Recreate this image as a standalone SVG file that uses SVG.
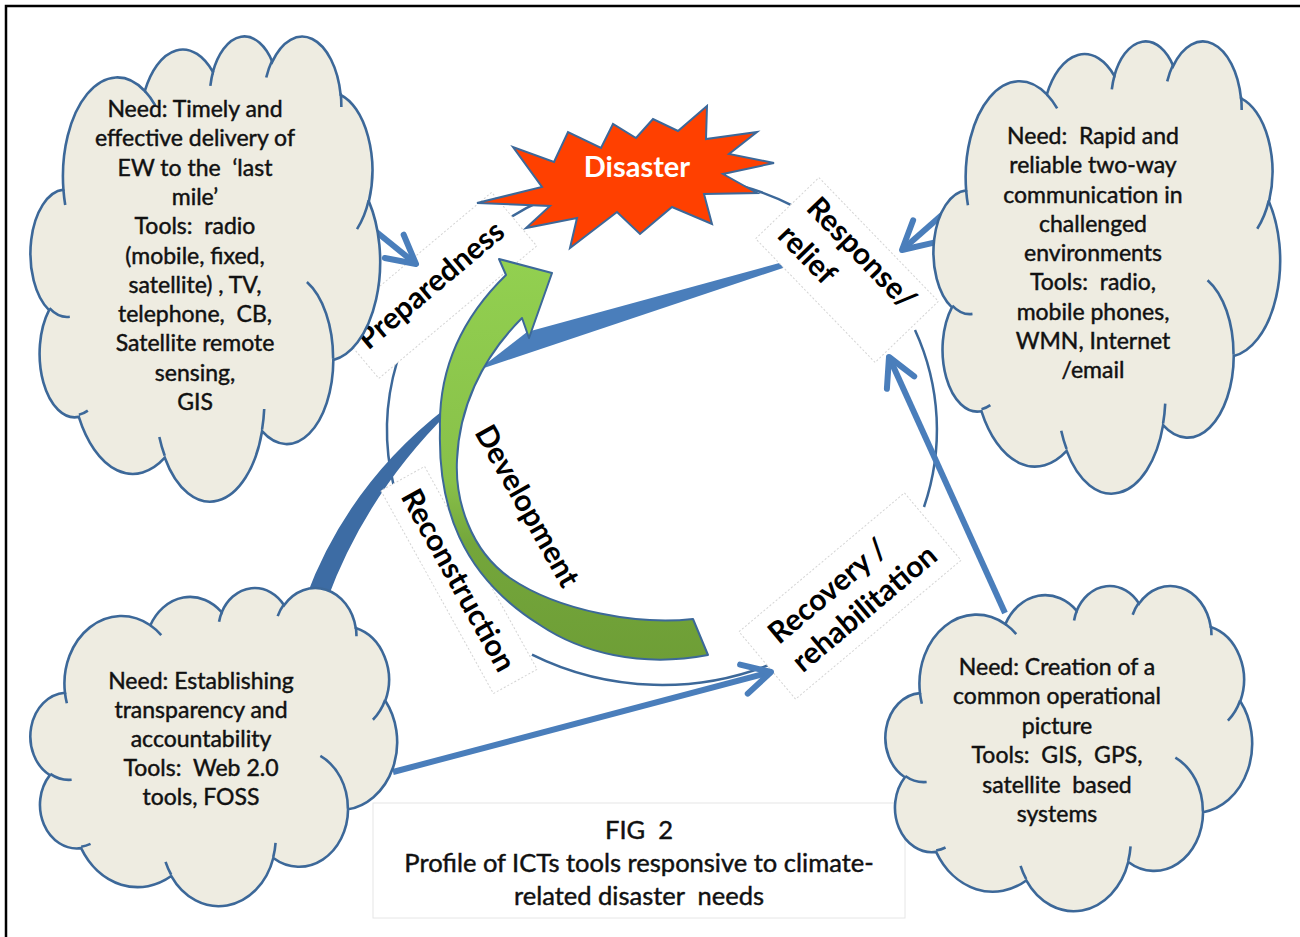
<svg xmlns="http://www.w3.org/2000/svg" width="1300" height="937" viewBox="0 0 1300 937">
<defs>
<style>
.cloud-body{fill:#EEECE1;stroke:#3C6899;stroke-width:2.6}
.cloud-inner{fill:none;stroke:#3C6899;stroke-width:2.6}
.ct{font-family:Lato,'Liberation Sans',sans-serif;font-size:23px;fill:#111;stroke:#111;stroke-width:0.45;text-anchor:middle;white-space:pre}
.cap{font-family:Lato,'Liberation Sans',sans-serif;font-size:25.5px;fill:#111;stroke:#111;stroke-width:0.45;text-anchor:middle;white-space:pre}
.lbl{font-family:Lato,'Liberation Sans',sans-serif;font-size:30px;font-weight:bold;fill:#000;white-space:pre}
.lblbox{fill:#fff;stroke:#d4d4d4;stroke-width:1;stroke-dasharray:2 2}
.cyc{fill:none;stroke:#3C6899;stroke-width:2.5}
.arr{fill:none;stroke:#4A7EBB;stroke-width:6;marker-end:url(#chev)}
</style>
<marker id="chev" markerUnits="userSpaceOnUse" markerWidth="40" markerHeight="44" viewBox="-4 -22 40 44" refX="30" refY="0" orient="auto" overflow="visible">
<path d="M2,-15 L30,0 L2,15" fill="none" stroke="#4A7EBB" stroke-width="6" stroke-linecap="round" stroke-linejoin="round"/>
</marker>
<linearGradient id="greenGrad" gradientUnits="userSpaceOnUse" x1="0" y1="260" x2="0" y2="665">
<stop offset="0" stop-color="#92D050"/>
<stop offset="0.55" stop-color="#88C049"/>
<stop offset="0.7" stop-color="#74A63B"/>
<stop offset="1" stop-color="#6E9E36"/>
</linearGradient>
<g id="cloudShape">
<path class="cloud-body" vector-effect="non-scaling-stroke" d="M9.03 33.26A15.63 21.27 0 0 1 32.42 12.04A12.35 16.82 0 0 1 51.98 7.94A10.1 13.76 0 0 1 69.06 5.73A11.24 15.27 0 0 1 88.7 12.9A12.35 16.84 0 0 1 96.8 35.78A15.68 21.34 0 0 1 86.59 69.91A13.39 18.21 0 0 1 66.11 85.21A15.63 21.33 0 0 1 38.16 90.9A17.87 24.41 0 0 1 13.45 82.12A10.09 13.7 0 0 1 4.9 59.16A10.06 13.76 0 0 1 9.03 33.26Z"/>
<path class="cloud-inner" vector-effect="non-scaling-stroke" d="M10.86 60.6A10.06 13.76 0 0 1 5 58.75M16.04 80.78A10.09 13.7 0 0 1 13.47 81.67M38.14 90.49A15.63 21.33 0 0 1 36.59 86.45M66.73 80.44A15.63 21.33 0 0 1 66.11 84.86M79 53.13A13.39 18.21 0 0 1 86.53 69.65M96.75 35.54A12.35 16.84 0 0 1 93.4 41.74M88.71 12.56A11.24 15.27 0 0 1 88.89 15.49M67.31 9.15A11.24 15.27 0 0 1 69.03 5.42M51.25 10.93A10.1 13.76 0 0 1 52.08 7.71M32.41 12.02A15.63 21.27 0 0 1 35.41 15.14M9.55 36.55A15.63 21.27 0 0 1 9.03 33.26"/>
</g>
</defs>

<rect x="0" y="0" width="1300" height="937" fill="#fff"/>
<rect x="6" y="6" width="1400" height="1000" fill="none" stroke="#000" stroke-width="2.5"/>

<g id="connectors-back">
<path class="cyc" d="M397 362 A275 255 0 0 0 394 487"/>
<path class="cyc" d="M532 654.7 A275 255 0 0 0 777 661.6"/>
<path class="cyc" d="M915 330 A275 255 0 0 1 924 507"/>
<path class="cyc" d="M508 218.7 A275 255 0 0 1 545 199.2"/>
<path class="cyc" d="M740 185.5 A275 255 0 0 1 795 206.8"/>
<path d="M306 597 Q348 484 446 408 L449 412 Q366 494 327 600 Z" fill="#3D6CA4"/>
<path d="M478 370 L527 332 L783 262 L783 268 Z" fill="#4A7EBB"/>
</g>

<g id="label-preparedness" transform="translate(431,285) rotate(-40)">
<rect class="lblbox" x="-100" y="-32" width="206" height="70"/>
<text class="lbl" x="0" y="10" text-anchor="middle">Preparedness</text>
</g>
<g id="label-response" transform="translate(847,270) rotate(46)">
<rect class="lblbox" x="-86" y="-44" width="172" height="88"/>
<text class="lbl" x="-73" y="-12">Response/</text>
<text class="lbl" x="-73" y="28">relief</text>
</g>
<g id="label-recovery" transform="translate(850,596) rotate(-40)">
<rect class="lblbox" x="-108" y="-44" width="216" height="88"/>
<text class="lbl" x="-86" y="-8">Recovery /</text>
<text class="lbl" x="-86" y="29">rehabilitation</text>
</g>
<g id="label-reconstruction" transform="translate(459,580) rotate(61)">
<rect class="lblbox" x="-116" y="-25" width="232" height="50"/>
<text class="lbl" x="0" y="11" text-anchor="middle">Reconstruction</text>
</g>

<g id="development-arrow">
<path d="M506 275 C470 310 438 360 440 430 C438 505 460 575 540 625 C580 652 640 668 708 655 L693 619 C640 625 560 612 510 578 C470 550 455 500 457 460 C459 410 480 360 522 318 L529 338 L552 273 L499 259 Z" fill="url(#greenGrad)" stroke="#3C6899" stroke-width="2" stroke-linejoin="round"/>
</g>
<g id="label-development" transform="translate(527,506) rotate(60.5)">
<text class="lbl" x="0" y="10" text-anchor="middle">Development</text>
</g>

<g id="disaster">
<path d="M477 203 L542 187 L513 147 L554 162 L568 132 L601 148 L613 124 L636 138 L653 119 L678 131 L707 106 L706 139 L757 132 L729 154 L774 163 L723 174 L757 193 L704 194 L712 224 L672 207 L640 234 L617 212 L570 248 L577 218 L526 228 L550 206 Z" fill="#FF4000" stroke="#3C6899" stroke-width="2" stroke-linejoin="miter"/>
<text x="637" y="177" text-anchor="middle" style="font-family:Lato,'Liberation Sans',sans-serif;font-size:29px;font-weight:bold;fill:#fff">Disaster</text>
</g>

<g id="connectors-arrows">
<path class="arr" d="M374 230 L416 264"/>
<path class="arr" d="M943 214 L902 250"/>
<path class="arr" d="M1005 613 L889 357"/>
<path class="arr" d="M393 772 L771 672"/>
</g>

<g id="caption">
<rect x="373" y="803" width="532" height="115" fill="#fff" stroke="#e6e6e6" stroke-width="1"/>
<text class="cap" x="639" y="839">FIG  2</text>
<text class="cap" x="639" y="872">Profile of ICTs tools responsive to climate-</text>
<text class="cap" x="639" y="905">related disaster  needs</text>
</g>

<g id="cloud-early-warning">
<use href="#cloudShape" transform="translate(32,35) scale(3.48,4.65)"/>
<text class="ct" x="195" y="117">Need: Timely and</text>
<text class="ct" x="195" y="146.3">effective delivery of</text>
<text class="ct" x="195" y="175.6">EW to the  ‘last</text>
<text class="ct" x="195" y="204.9">mile’</text>
<text class="ct" x="195" y="234.2">Tools:  radio</text>
<text class="ct" x="195" y="263.5">(mobile, fixed,</text>
<text class="ct" x="195" y="292.8">satellite) , TV,</text>
<text class="ct" x="195" y="322.1">telephone,  CB,</text>
<text class="ct" x="195" y="351.4">Satellite remote</text>
<text class="ct" x="195" y="380.7">sensing,</text>
<text class="ct" x="195" y="410">GIS</text>
</g>

<g id="cloud-communication">
<use href="#cloudShape" transform="translate(935,40) scale(3.45,4.52)"/>
<text class="ct" x="1093" y="144">Need:  Rapid and</text>
<text class="ct" x="1093" y="173.25">reliable two-way</text>
<text class="ct" x="1093" y="202.5">communication in</text>
<text class="ct" x="1093" y="231.75">challenged</text>
<text class="ct" x="1093" y="261">environments</text>
<text class="ct" x="1093" y="290.25">Tools:  radio,</text>
<text class="ct" x="1093" y="319.5">mobile phones,</text>
<text class="ct" x="1093" y="348.75">WMN, Internet</text>
<text class="ct" x="1093" y="378">/email</text>
</g>

<g id="cloud-transparency">
<use href="#cloudShape" transform="translate(32,587) scale(3.65,3.18)"/>
<text class="ct" x="201" y="689">Need: Establishing</text>
<text class="ct" x="201" y="718">transparency and</text>
<text class="ct" x="201" y="747">accountability</text>
<text class="ct" x="201" y="776">Tools:  Web 2.0</text>
<text class="ct" x="201" y="805">tools, FOSS</text>
</g>

<g id="cloud-operational-picture">
<use href="#cloudShape" transform="translate(887,585) scale(3.65,3.25)"/>
<text class="ct" x="1057" y="675">Need: Creation of a</text>
<text class="ct" x="1057" y="704.4">common operational</text>
<text class="ct" x="1057" y="733.8">picture</text>
<text class="ct" x="1057" y="763.2">Tools:  GIS,  GPS,</text>
<text class="ct" x="1057" y="792.6">satellite  based</text>
<text class="ct" x="1057" y="822">systems</text>
</g>
</svg>
